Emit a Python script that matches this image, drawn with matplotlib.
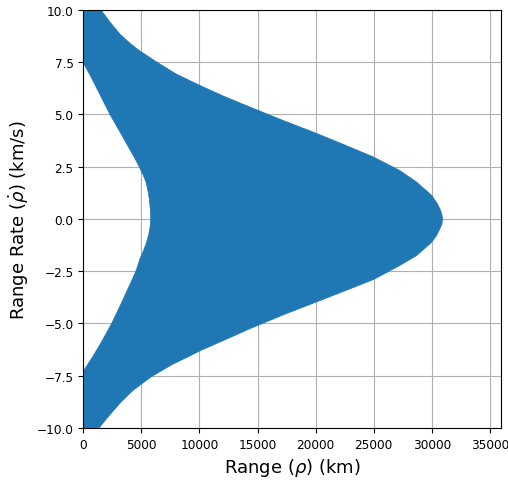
import matplotlib
matplotlib.use("Agg")
import matplotlib.pyplot as plt

# boundary of the reachable region
# outer (right) edge, upper half, from the top down to the tip
upper_right_x = [1500, 2300, 3200, 4000, 4800, 6300, 8000, 9870, 12000, 14350, 17210,
                 20000, 22950, 25000, 27250, 28690, 30000, 30450, 30750, 30880, 30930]
upper_right_y = [10.0, 9.4, 8.8, 8.4, 8.05, 7.5, 6.92, 6.42, 5.88, 5.34, 4.70,
                 4.10, 3.43, 2.95, 2.31, 1.76, 1.12, 0.75, 0.42, 0.2, 0.0]

# outer (right) edge, lower half, from the tip down to the bottom
lower_right_x = [30880, 30700, 30410, 30000, 28690, 27250, 25000, 22950, 20000,
                 17210, 14350, 12620, 10160, 7600, 5850, 4280, 3180, 2210, 1350]
lower_right_y = [-0.25, -0.48, -0.8, -1.12, -1.76, -2.23, -2.9, -3.35, -3.99,
                 -4.59, -5.25, -5.68, -6.28, -6.98, -7.55, -8.2, -8.8, -9.41, -10.0]

# inner (left) edge, lower half, from the axis up to the nose
lower_left_x = [0, 0, 800, 1600, 2440, 3050, 3670, 4130, 4530,
                4880, 5200, 5450, 5650, 5760, 5800]
lower_left_y = [-10.0, -7.28, -6.6, -5.85, -5.0, -4.3, -3.55, -3.0, -2.5,
                -1.91, -1.5, -1.12, -0.7, -0.35, 0.0]

# inner (left) edge, upper half, from the nose up to the axis
upper_left_x = [5770, 5680, 5560, 5400, 5150, 4800, 4450, 4020, 3210, 2300,
                1600, 1150, 600, 0, 0]
upper_left_y = [0.45, 0.96, 1.35, 1.76, 2.1, 2.5, 2.88, 3.3, 4.1, 4.98,
                5.75, 6.25, 6.85, 7.45, 10.0]

xs = upper_right_x + lower_right_x + lower_left_x + upper_left_x
ys = upper_right_y + lower_right_y + lower_left_y + upper_left_y

fig = plt.figure(figsize=(5.08, 4.81), dpi=100)
ax = fig.add_axes([0.164, 0.108, 0.823, 0.870])

ax.fill(xs, ys, color='#1f77b4', linewidth=0.5, edgecolor='#1f77b4')

ax.set_xlim(0, 36000)
ax.set_ylim(-10, 10)
ax.set_xticks(range(0, 36000, 5000))
ax.set_yticks([-10, -7.5, -5, -2.5, 0, 2.5, 5, 7.5, 10])
ax.set_axisbelow(True)
ax.grid(True)
ax.tick_params(labelsize=8.7)

ax.set_xlabel(r'Range ($\rho$) (km)', fontsize=13)
ax.set_ylabel(r'Range Rate ($\dot{\rho}$) (km/s)', fontsize=13)

plt.savefig('out.png', dpi=100)
